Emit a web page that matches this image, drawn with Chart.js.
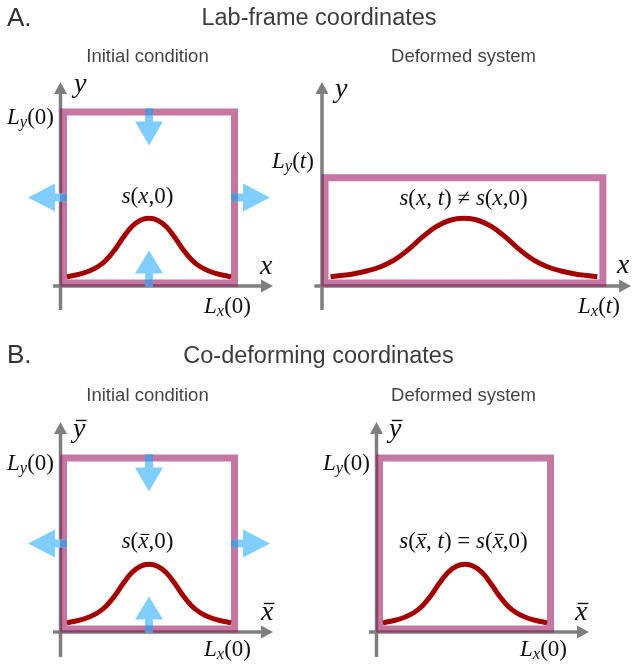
<!DOCTYPE html>
<html>
<head>
<meta charset="utf-8">
<script src="https://cdn.jsdelivr.net/npm/chart.js@4.4.1/dist/chart.umd.min.js"></script>
<style>
  html, body { margin: 0; padding: 0; background: #ffffff; }
  canvas { display: block; }
</style>
</head>
<body>
<canvas id="c" width="632" height="667"></canvas>
<script>
// Box dimensions in system units: [Lx, Ly]
const boxInitial  = [1.0, 1.0];     // Lx(0), Ly(0)
const boxDeformed = [1.625, 0.615]; // Lx(t), Ly(t)  (area preserving stretch)

// Profile s sampled at fractions of the box width
const profileFrac = [0.02, 0.05, 0.10, 0.15, 0.20, 0.25, 0.30, 0.35, 0.40, 0.45, 0.50,
                     0.55, 0.60, 0.65, 0.70, 0.75, 0.80, 0.85, 0.90, 0.95, 0.98];
const profileVal  = [0.036, 0.042, 0.053, 0.070, 0.095, 0.135, 0.195, 0.268, 0.330, 0.367, 0.378,
                     0.367, 0.330, 0.268, 0.195, 0.135, 0.095, 0.070, 0.053, 0.042, 0.036];

// Headings
const sectionLetters = ['A.', 'B.'];
const sectionTitles  = ['Lab-frame coordinates', 'Co-deforming coordinates'];
const panelTitles    = ['Initial condition', 'Deformed system'];

const W = 632, H = 667;
const PX = 171;                       // pixels per system unit
const BOX_COLOR   = 'rgba(152,15,88,0.57)';
const CURVE_COLOR = '#a30000';
const AXIS_COLOR  = '#7f7f7f';
const ARROW_LIGHT = '#80cdff';
const ARROW_DARK  = '#5b93d6';

// Panel layout: origin pixel of each box corner, which box and which profile stretch
const panels = [
  { key: 'AL', ox: 63.5,  oy: 283, box: boxInitial,  stretch: boxInitial[0],  arrows: true,  axisTop: 1.175, axisRight: 1.225, axisBottom: 0.158 },
  { key: 'AR', ox: 325,   oy: 283, box: boxDeformed, stretch: boxDeformed[0], arrows: false, axisTop: 1.175, axisRight: 1.79,  axisBottom: 0.158 },
  { key: 'BL', ox: 63.5,  oy: 629, box: boxInitial,  stretch: boxInitial[0],  arrows: true,  axisTop: 1.21,  axisRight: 1.225, axisBottom: 0.164 },
  { key: 'BR', ox: 379.5, oy: 629, box: boxInitial,  stretch: boxInitial[0],  arrows: false, axisTop: 1.21,  axisRight: 1.225, axisBottom: 0.164 }
];

// One pair of hidden linear scales per panel
const scales = {};
panels.forEach(p => {
  scales['x' + p.key] = { type: 'linear', display: false, bounds: 'data', min: -p.ox / PX, max: (W - p.ox) / PX };
  scales['y' + p.key] = { type: 'linear', display: false, bounds: 'data', min: -(H - p.oy) / PX, max: p.oy / PX };
});

const datasets = [];
panels.forEach(p => {
  const [Lx, Ly] = p.box;
  datasets.push({
    label: 'box ' + p.key,
    xAxisID: 'x' + p.key, yAxisID: 'y' + p.key,
    data: [{x: 0, y: 0}, {x: Lx, y: 0}, {x: Lx, y: Ly}, {x: 0, y: Ly}, {x: 0, y: 0}],
    showLine: true, borderColor: BOX_COLOR, borderWidth: 7,
    borderJoinStyle: 'miter', borderCapStyle: 'square',
    pointRadius: 0, tension: 0, fill: false
  });
  datasets.push({
    label: 'profile ' + p.key,
    xAxisID: 'x' + p.key, yAxisID: 'y' + p.key,
    data: profileFrac.map((f, i) => ({ x: f * p.stretch, y: profileVal[i] })),
    showLine: true, borderColor: CURVE_COLOR, borderWidth: 5,
    borderCapStyle: 'butt', borderJoinStyle: 'round', tension: 0.4,
    pointRadius: 0, fill: false
  });
});

// ---------- drawing helpers ----------
const SERIF = '"Liberation Serif", "Times New Roman", serif';
const SANS  = '"Liberation Sans", Arial, Helvetica, sans-serif';

function mathFont(run, size) {
  const s = run.sub ? size * 0.72 : size;
  return (run.it ? 'italic ' : '') + s + 'px ' + SERIF;
}

// Draws a run list such as [{t:'L',it:1},{t:'y',it:1,sub:1},{t:'(0)'}]
function drawMath(ctx, runs, x, base, size, align) {
  const widths = runs.map(r => { ctx.font = mathFont(r, size); return ctx.measureText(r.t).width; });
  const total = widths.reduce((a, b) => a + b, 0);
  let cx = align === 'center' ? x - total / 2 : x;
  ctx.fillStyle = '#111';
  ctx.textBaseline = 'alphabetic';
  ctx.textAlign = 'left';
  runs.forEach((r, i) => {
    ctx.font = mathFont(r, size);
    const by = base + (r.sub ? size * 0.12 : 0);
    ctx.fillText(r.t, cx, by);
    if (r.bar) {
      const yb = by - size * 0.45 - size * 0.14;
      ctx.beginPath();
      ctx.strokeStyle = '#111';
      ctx.lineWidth = Math.max(1.1, size * 0.05);
      ctx.moveTo(cx + size * 0.1, yb);
      ctx.lineTo(cx + widths[i] + size * 0.04, yb);
      ctx.stroke();
    }
    cx += widths[i];
  });
}

function drawArrow(ctx, sx, sy, dx, dy, len, headLen, headW, shaftW) {
  const nx = -dy, ny = dx;
  const bx = sx + dx * (len - headLen), by = sy + dy * (len - headLen);
  const tx = sx + dx * len, ty = sy + dy * len;
  ctx.beginPath();
  ctx.moveTo(sx + nx * shaftW / 2, sy + ny * shaftW / 2);
  ctx.lineTo(bx + nx * shaftW / 2, by + ny * shaftW / 2);
  ctx.lineTo(bx + nx * headW / 2, by + ny * headW / 2);
  ctx.lineTo(tx, ty);
  ctx.lineTo(bx - nx * headW / 2, by - ny * headW / 2);
  ctx.lineTo(bx - nx * shaftW / 2, by - ny * shaftW / 2);
  ctx.lineTo(sx - nx * shaftW / 2, sy - ny * shaftW / 2);
  ctx.closePath();
  ctx.fillStyle = ARROW_LIGHT;
  ctx.fill();
  // part of the shaft lying on the box outline
  ctx.beginPath();
  ctx.moveTo(sx + nx * shaftW / 2, sy + ny * shaftW / 2);
  ctx.lineTo(sx + dx * 7 + nx * shaftW / 2, sy + dy * 7 + ny * shaftW / 2);
  ctx.lineTo(sx + dx * 7 - nx * shaftW / 2, sy + dy * 7 - ny * shaftW / 2);
  ctx.lineTo(sx - nx * shaftW / 2, sy - ny * shaftW / 2);
  ctx.closePath();
  ctx.fillStyle = ARROW_DARK;
  ctx.fill();
}

// Text placements (pixels)
const I = 1;
const mathLabels = [
  // lab frame, initial
  { runs: [{t: 'y', it: I}], x: 74, y: 92, size: 28 },
  { runs: [{t: 'L', it: I}, {t: 'y', it: I, sub: I}, {t: '(0)'}], x: 7, y: 124, size: 23 },
  { runs: [{t: 'x', it: I}], x: 260, y: 274, size: 28 },
  { runs: [{t: 'L', it: I}, {t: 'x', it: I, sub: I}, {t: '(0)'}], x: 204, y: 313, size: 23 },
  { runs: [{t: 's', it: I}, {t: '('}, {t: 'x', it: I}, {t: ',0)'}], x: 147.5, y: 203, size: 23, center: true },
  // lab frame, deformed
  { runs: [{t: 'y', it: I}], x: 335, y: 97, size: 28 },
  { runs: [{t: 'L', it: I}, {t: 'y', it: I, sub: I}, {t: '('}, {t: 't', it: I}, {t: ')'}], x: 272, y: 168, size: 23 },
  { runs: [{t: 'x', it: I}], x: 617, y: 273, size: 28 },
  { runs: [{t: 'L', it: I}, {t: 'x', it: I, sub: I}, {t: '('}, {t: 't', it: I}, {t: ')'}], x: 578, y: 313, size: 23 },
  { runs: [{t: 's', it: I}, {t: '('}, {t: 'x', it: I}, {t: ', '}, {t: 't', it: I}, {t: ') \u2260 '},
           {t: 's', it: I}, {t: '('}, {t: 'x', it: I}, {t: ',0)'}], x: 463.5, y: 205, size: 23, center: true },
  // co-deforming, initial
  { runs: [{t: 'y', it: I, bar: I}], x: 73, y: 437, size: 28 },
  { runs: [{t: 'L', it: I}, {t: 'y', it: I, sub: I}, {t: '(0)'}], x: 7, y: 470, size: 23 },
  { runs: [{t: 'x', it: I, bar: I}], x: 261, y: 620, size: 28 },
  { runs: [{t: 'L', it: I}, {t: 'x', it: I, sub: I}, {t: '(0)'}], x: 204, y: 656, size: 23 },
  { runs: [{t: 's', it: I}, {t: '('}, {t: 'x', it: I, bar: I}, {t: ',0)'}], x: 147.5, y: 548, size: 23, center: true },
  // co-deforming, deformed
  { runs: [{t: 'y', it: I, bar: I}], x: 389, y: 437, size: 28 },
  { runs: [{t: 'L', it: I}, {t: 'y', it: I, sub: I}, {t: '(0)'}], x: 323, y: 470, size: 23 },
  { runs: [{t: 'x', it: I, bar: I}], x: 575, y: 620, size: 28 },
  { runs: [{t: 'L', it: I}, {t: 'x', it: I, sub: I}, {t: '(0)'}], x: 520, y: 656, size: 23 },
  { runs: [{t: 's', it: I}, {t: '('}, {t: 'x', it: I, bar: I}, {t: ', '}, {t: 't', it: I}, {t: ') = '},
           {t: 's', it: I}, {t: '('}, {t: 'x', it: I, bar: I}, {t: ',0)'}], x: 463.5, y: 548, size: 23, center: true }
];

const figurePlugin = {
  id: 'figureDecor',
  beforeDatasetsDraw(chart) {
    const ctx = chart.ctx;
    ctx.save();
    panels.forEach(p => {
      const xs = chart.scales['x' + p.key], ys = chart.scales['y' + p.key];
      const ax = xs.getPixelForValue(0) - 3;   // vertical axis position
      const ay = ys.getPixelForValue(0) + 3;   // horizontal axis position
      const yTop = ys.getPixelForValue(p.axisTop);
      const yBot = ys.getPixelForValue(-p.axisBottom);
      const xLeft = xs.getPixelForValue(0) - 10.5;
      const xRight = xs.getPixelForValue(p.axisRight);
      ctx.strokeStyle = AXIS_COLOR; ctx.fillStyle = AXIS_COLOR; ctx.lineWidth = 3.5;
      ctx.beginPath();
      ctx.moveTo(ax, yBot); ctx.lineTo(ax, yTop + 10);
      ctx.moveTo(xLeft, ay); ctx.lineTo(xRight - 10, ay);
      ctx.stroke();
      ctx.beginPath();
      ctx.moveTo(ax, yTop); ctx.lineTo(ax - 6.5, yTop + 12); ctx.lineTo(ax + 6.5, yTop + 12); ctx.closePath();
      ctx.fill();
      ctx.beginPath();
      ctx.moveTo(xRight, ay); ctx.lineTo(xRight - 12, ay - 6.5); ctx.lineTo(xRight - 12, ay + 6.5); ctx.closePath();
      ctx.fill();
    });
    ctx.restore();
  },
  afterDatasetsDraw(chart) {
    const ctx = chart.ctx;
    ctx.save();
    // compression / extension arrows on the initial boxes
    panels.filter(p => p.arrows).forEach(p => {
      const xs = chart.scales['x' + p.key], ys = chart.scales['y' + p.key];
      const [Lx, Ly] = p.box;
      const midX = xs.getPixelForValue(Lx / 2), midY = ys.getPixelForValue(Ly / 2);
      const top = ys.getPixelForValue(Ly), bottom = ys.getPixelForValue(0);
      const left = xs.getPixelForValue(0), right = xs.getPixelForValue(Lx);
      drawArrow(ctx, midX, top - 3.5, 0, 1, 37, 24, 28, 8);
      drawArrow(ctx, midX, bottom + 3.5, 0, -1, 36, 23, 28, 8);
      drawArrow(ctx, left + 3.5, midY, -1, 0, 39, 27, 28, 8);
      drawArrow(ctx, right - 3.5, midY, 1, 0, 39, 27, 28, 8);
    });

    // headings
    ctx.textBaseline = 'alphabetic';
    ctx.fillStyle = '#333';
    ctx.textAlign = 'left';
    ctx.font = '26px ' + SANS;
    ctx.fillText(sectionLetters[0], 7, 26);
    ctx.fillText(sectionLetters[1], 7, 363);
    ctx.textAlign = 'center';
    ctx.fillStyle = '#3c3c3c';
    ctx.font = '23.5px ' + SANS;
    ctx.fillText(sectionTitles[0], 319, 25);
    ctx.fillText(sectionTitles[1], 318.5, 363);
    ctx.fillStyle = '#444';
    ctx.font = '18.5px ' + SANS;
    ctx.fillText(panelTitles[0], 147.5, 62);
    ctx.fillText(panelTitles[1], 463.5, 62);
    ctx.fillText(panelTitles[0], 147.5, 401);
    ctx.fillText(panelTitles[1], 463.5, 401);

    // math labels
    mathLabels.forEach(l => drawMath(ctx, l.runs, l.x, l.y, l.size, l.center ? 'center' : 'left'));
    ctx.restore();
  }
};

new Chart(document.getElementById('c'), {
  type: 'scatter',
  data: { datasets },
  options: {
    responsive: false,
    animation: false,
    devicePixelRatio: 1,
    layout: { padding: 0 },
    scales,
    plugins: { legend: { display: false }, tooltip: { enabled: false }, title: { display: false } },
    events: []
  },
  plugins: [figurePlugin]
});
</script>
</body>
</html>
